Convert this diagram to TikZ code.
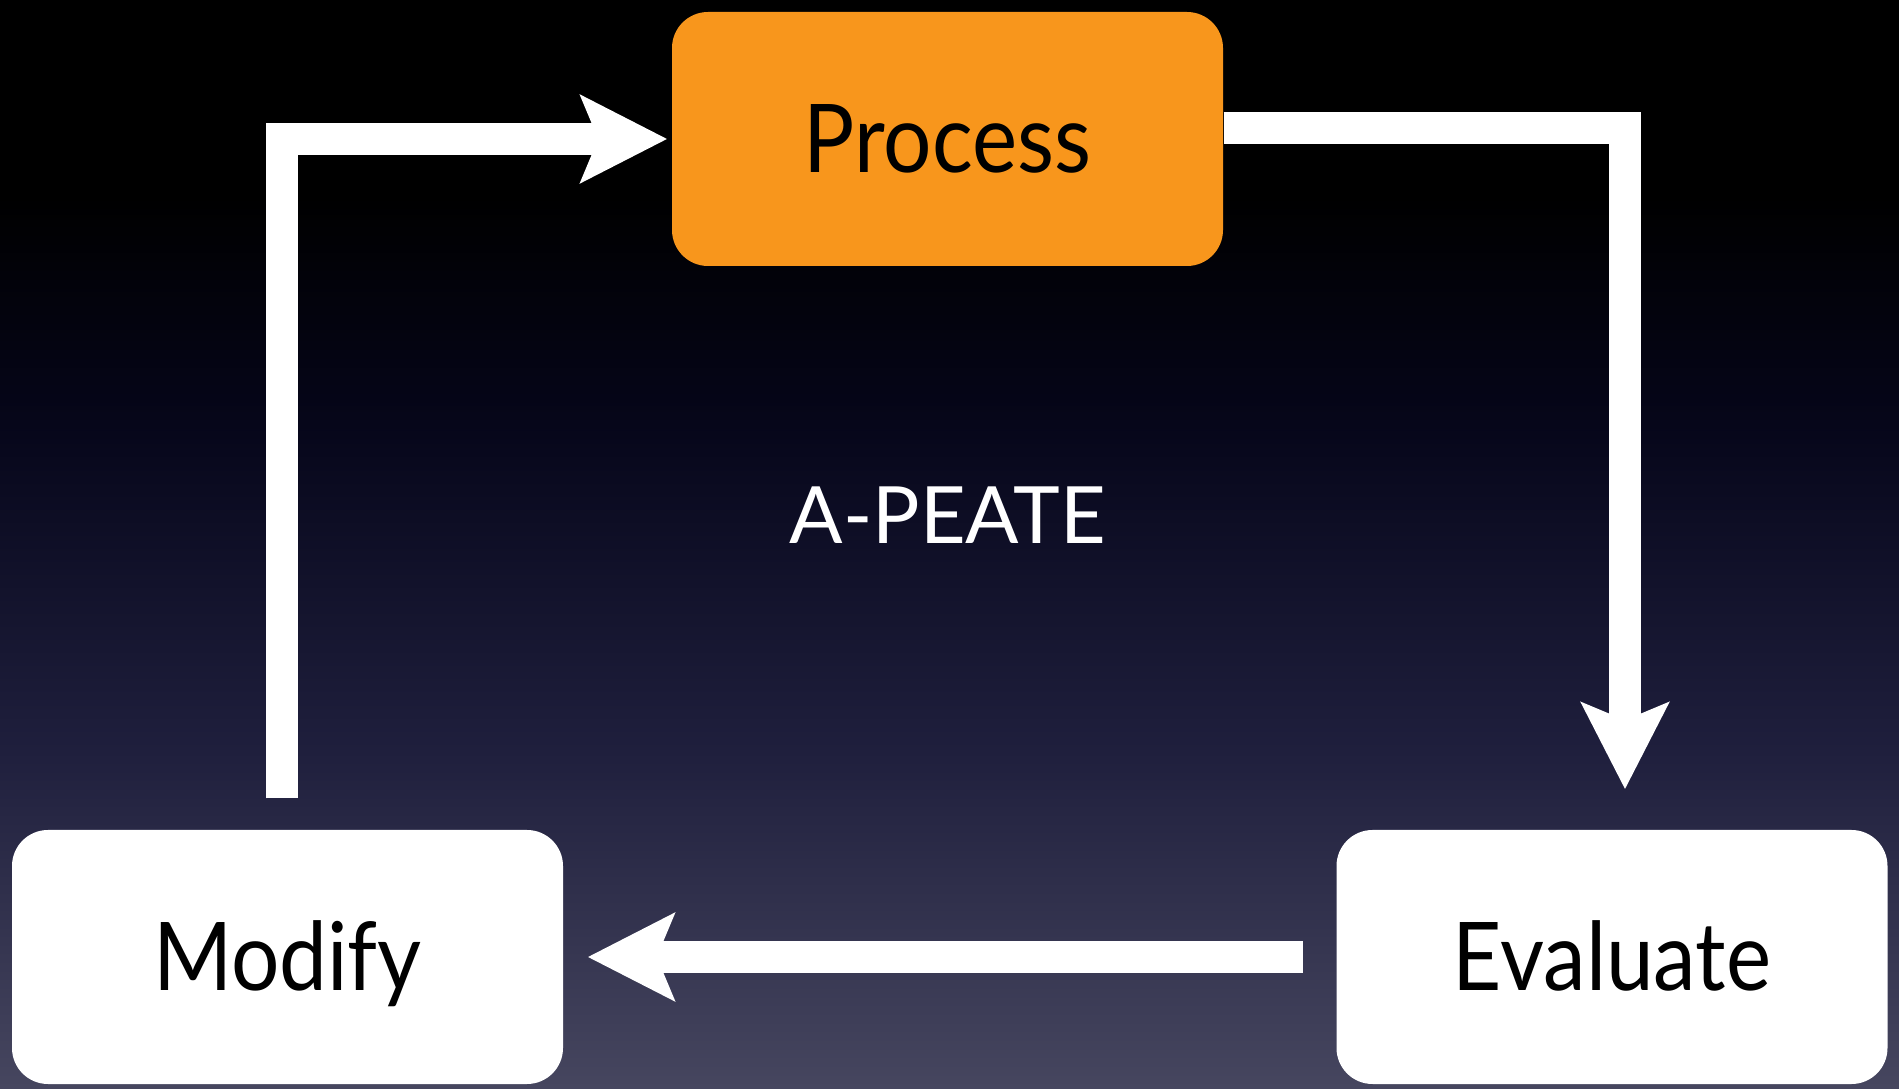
\documentclass[tikz,border=0pt]{standalone}
\usepackage{fontspec}
\usepackage{tikz}
\usetikzlibrary{arrows.meta, positioning, calc}
\newfontfamily\slidefont[FakeStretch=0.9]{Lato}
\newfontfamily\titlefont{Lato}
\definecolor{myorange}{RGB}{248,150,28}
\definecolor{bgbot}{RGB}{70,70,95}
\definecolor{bglow}{RGB}{31,31,61}
\definecolor{bgmid}{RGB}{6,6,26}
% path box runs from 25bp (bottom) to 75bp (top)
\pgfdeclareverticalshading{slidebg}{100bp}{color(0bp)=(bgbot); color(25bp)=(bgbot);
  color(40.5bp)=(bglow); color(55.5bp)=(bgmid); color(66bp)=(black); color(100bp)=(black)}
\tikzset{
  stepbox/.style={rectangle, fill=white, minimum width=5.51cm, minimum height=2.54cm,
    rounded corners=0.36cm, text=black, text height=19pt, text depth=0pt,
    font=\slidefont\fontsize{27}{30}\selectfont},
  hotbox/.style={stepbox, fill=myorange},
  title/.style={text=white, font=\titlefont\fontsize{22.5}{26}\selectfont},
  flow/.style={-{Stealth[length=0.86cm, width=0.86cm, inset=0.17cm]}, line width=0.32cm,
    color=white, line join=miter}
}

\begin{document}
\begin{tikzpicture}
  % Background
  \shade[shading=slidebg] (0,0) rectangle (18.99,10.88);

  \node[hotbox] (proc) at (9.475, 9.49) {Process};
  \node[stepbox] (mod) at (2.875, 1.31) {Modify};
  \node[stepbox] (eval) at (16.12, 1.31) {Evaluate};

  \node[title, anchor=base] (cycle) at (9.48, 5.44) {A-PEATE};

  % Paths
  \draw[flow] ([yshift=0.11cm]proc.east) -| ([xshift=0.13cm, yshift=0.4cm]eval.north);
  \draw[flow] ([xshift=-0.33cm]eval.west) -- ([xshift=0.24cm]mod.east);
  \draw[flow] ([xshift=-0.055cm, yshift=0.31cm]mod.north) |- ([xshift=-0.04cm]proc.west);
\end{tikzpicture}
\end{document}
